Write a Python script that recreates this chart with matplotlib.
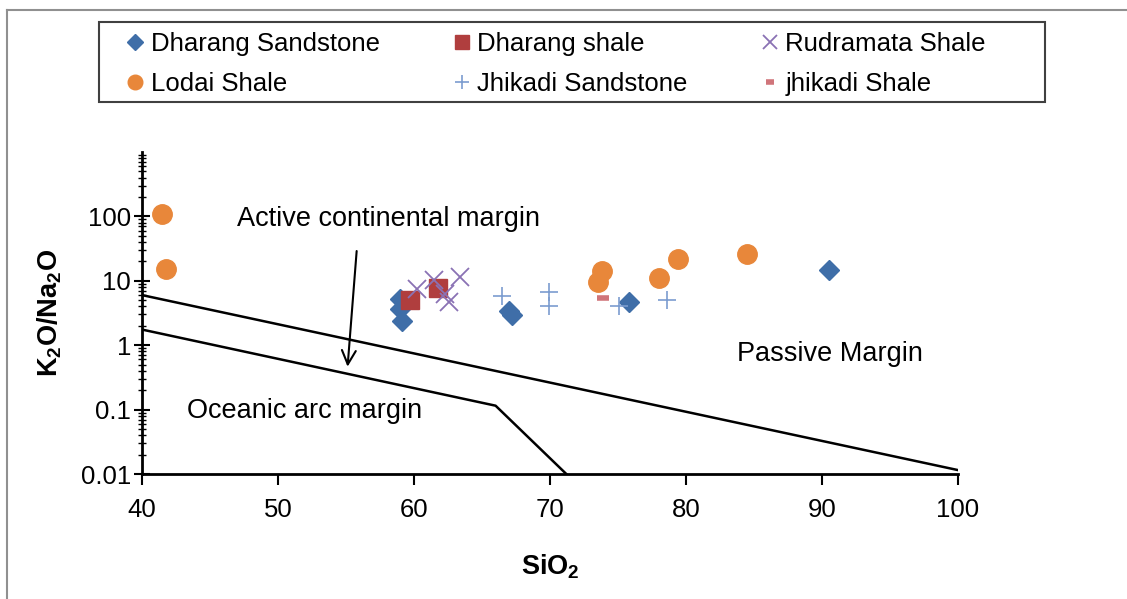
import matplotlib.pyplot as plt
from matplotlib.lines import Line2D
from matplotlib.patches import Rectangle

plt.rcParams['font.family'] = ['Liberation Sans', 'DejaVu Sans']
plt.rcParams['mathtext.fontset'] = 'custom'
plt.rcParams['mathtext.rm'] = 'Liberation Sans'
plt.rcParams['mathtext.bf'] = 'Liberation Sans:bold'

# SiO2 (wt%) against K2O/Na2O for each unit
dharang_sst_sio2 = [59.0, 59.0, 59.1, 67.0, 67.2, 75.8, 90.5]
dharang_sst_ratio = [5.2, 3.7, 2.4, 3.4, 2.9, 4.7, 14.9]

dharang_sh_sio2 = [59.7, 61.8]
dharang_sh_ratio = [5.0, 7.8]

rudramata_sio2 = [60.2, 61.5, 62.3, 62.6, 63.4]
rudramata_ratio = [7.5, 10.4, 6.3, 4.7, 11.5]

lodai_sio2 = [41.5, 41.8, 73.5, 73.8, 78.0, 79.4, 84.5]
lodai_ratio = [110, 15, 9.6, 14.4, 11, 22, 26]

jhikadi_sst_sio2 = [66.5, 69.9, 69.9, 75.1, 78.6]
jhikadi_sst_ratio = [5.8, 6.7, 4.1, 4.1, 5.0]

jhikadi_sh_sio2 = [73.9]
jhikadi_sh_ratio = [5.4]

# field boundaries (Roser & Korsch style)
upper_bound_x = [40, 100]
upper_bound_y = [6.0, 0.0115]
lower_bound_x = [40, 66, 71.2]
lower_bound_y = [1.75, 0.115, 0.01]

fig = plt.figure(figsize=(11.27, 5.99), dpi=100)
ax = fig.add_axes([142 / 1127, 1 - 474 / 599, 816 / 1127, 322 / 599])

ax.plot(upper_bound_x, upper_bound_y, color='black', lw=1.8)
ax.plot(lower_bound_x, lower_bound_y, color='black', lw=1.8)

s1, = ax.plot(dharang_sst_sio2, dharang_sst_ratio, 'D', color='#3F6EA8', ms=10.5, ls='none')
s2, = ax.plot(dharang_sh_sio2, dharang_sh_ratio, 's', color='#B03E3E', ms=13, ls='none')
s3, = ax.plot(rudramata_sio2, rudramata_ratio, 'x', color='#8A72B4', ms=13, mew=1.3, ls='none')
s4, = ax.plot(lodai_sio2, lodai_ratio, 'o', color='#E8873A', ms=14, ls='none')
s5, = ax.plot(jhikadi_sst_sio2, jhikadi_sst_ratio, '+', color='#7B9CCF', ms=13, mew=1.2, ls='none')
s6, = ax.plot(jhikadi_sh_sio2, jhikadi_sh_ratio, '_', color='#D0757A', ms=8, mew=4, ls='none')

ax.set_yscale('log')
ax.set_xlim(40, 100)
ax.set_ylim(0.01, 1000)
ax.set_xticks([40, 50, 60, 70, 80, 90, 100])
ax.set_yticks([0.01, 0.1, 1, 10, 100])
ax.set_yticklabels(['0.01', '0.1', '1', '10', '100'])

for side in ['top', 'right']:
    ax.spines[side].set_visible(False)
for side in ['left', 'bottom']:
    ax.spines[side].set_linewidth(2)

ax.tick_params(axis='x', direction='out', length=8, width=1.5, labelsize=18.5, pad=9)
ax.tick_params(axis='y', which='major', direction='inout', length=12, width=1.5, labelsize=18.5, pad=2)
ax.tick_params(axis='y', which='minor', direction='inout', length=6, width=1)

ax.set_xlabel(r'$\mathbf{SiO_2}$', fontsize=19.5, labelpad=22)
ax.set_ylabel(r'$\mathbf{K_2O/Na_2O}$', fontsize=19.5, labelpad=12)

# field labels and arrow
ax.text(47.0, 92, 'Active continental margin', fontsize=19.5, va='center')
ax.text(83.75, 0.72, 'Passive Margin', fontsize=19.5, va='center')
ax.text(43.3, 0.094, 'Oceanic arc margin', fontsize=19.5, va='center')
ax.annotate('', xy=(55.1, 0.42), xytext=(55.8, 32),
            arrowprops=dict(arrowstyle='->', color='black', lw=1.5, mutation_scale=25))

# legend box drawn separately so the entries can sit left of centre
fig.add_artist(Rectangle((99 / 1127, 1 - 102 / 599), 946 / 1127, 80 / 599,
                         transform=fig.transFigure, facecolor='white',
                         edgecolor='#404040', lw=1.5))

handles = [s1, s4, s2, s5, s3, s6]
labels = ['Dharang Sandstone', 'Lodai Shale', 'Dharang shale',
          'Jhikadi Sandstone', 'Rudramata Shale', 'jhikadi Shale']
fig.legend(handles, labels, ncol=3, loc='center left',
           bbox_to_anchor=(120 / 1127, 1 - 64 / 599),
           fontsize=18.5, markerscale=0.75, handlelength=0.8,
           handletextpad=0.2, borderaxespad=0, borderpad=0.2, labelspacing=0.6,
           columnspacing=2.8, frameon=False)

# thin grey frame around the chart area
fig.add_artist(Line2D([7 / 1127, 1], [1 - 10 / 599, 1 - 10 / 599], color='#909090', lw=1.5))
fig.add_artist(Line2D([7 / 1127, 7 / 1127], [0, 1 - 10 / 599], color='#909090', lw=1.5))

fig.savefig('out.png', dpi=100)
